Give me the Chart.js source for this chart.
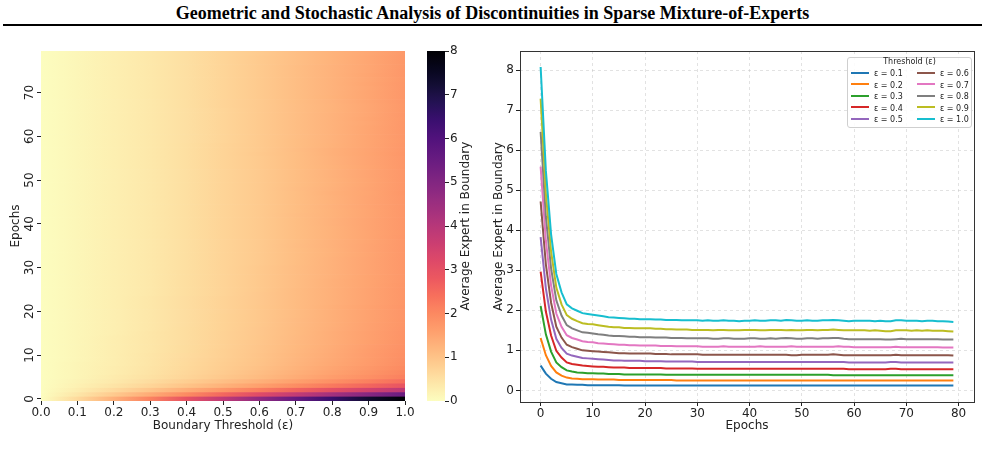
<!DOCTYPE html>
<html><head><meta charset="utf-8">
<script src="https://cdn.jsdelivr.net/npm/chart.js@4.4.1/dist/chart.umd.min.js"></script>
<style>
html,body{margin:0;padding:0;background:#fff;}
body{width:985px;height:454px;position:relative;overflow:hidden;font-family:"DejaVu Sans",sans-serif;}
#title{position:absolute;left:0;top:3px;width:985px;text-align:center;font-family:"Liberation Serif","Times New Roman",serif;font-weight:bold;font-size:18px;color:#000;line-height:20px;}
#rule{position:absolute;left:3px;top:24px;width:979px;height:2px;background:#000;}
canvas{position:absolute;top:0;}
#legend{position:absolute;left:847px;top:57px;width:125px;height:71px;border:1px solid #cfcfcf;border-radius:3px;background:rgba(255,255,255,0.85);font-family:"DejaVu Sans",sans-serif;font-size:8px;color:#222;box-sizing:border-box;}
#legend .lt{position:absolute;left:0;top:0px;width:100%;text-align:center;line-height:10px;}
#legend .it{position:absolute;height:10px;line-height:10px;white-space:nowrap;}
#legend .sw{display:inline-block;width:18px;height:2px;vertical-align:middle;margin-right:5px;position:relative;top:-1px;}
</style></head>
<body>
<div id="title">Geometric and Stochastic Analysis of Discontinuities in Sparse Mixture-of-Experts</div>
<div id="rule"></div>
<canvas id="heat" width="420" height="454" style="left:0"></canvas>
<canvas id="cbar" width="80" height="454" style="left:420px"></canvas>
<canvas id="lines" width="505" height="454" style="left:480px"></canvas>
<div id="legend"></div>
<script>
// ---------------- DATA ----------------
const epochs = Array.from({length: 80}, (_, i) => i);
const thresholds = [0.1, 0.2, 0.3, 0.4, 0.5, 0.6, 0.7, 0.8, 0.9, 1.0];
const zeroThresholdValue = 0;
const xTickLabelsHeat = [0.0, 0.1, 0.2, 0.3, 0.4, 0.5, 0.6, 0.7, 0.8, 0.9, 1.0];
const yTickLabelsHeat = [0, 10, 20, 30, 40, 50, 60, 70];
const colorbarTicks = [0, 1, 2, 3, 4, 5, 6, 7, 8];
const lineXTicks = [0, 10, 20, 30, 40, 50, 60, 70, 80];
const lineYTicks = [0, 1, 2, 3, 4, 5, 6, 7, 8];

const eps01 = [0.62,0.42,0.29,0.21,0.18,0.15,0.15,0.14,0.14,0.13,
  0.13,0.13,0.13,0.13,0.13,0.13,0.12,0.12,0.12,0.12,
  0.12,0.12,0.12,0.12,0.12,0.12,0.12,0.12,0.12,0.12,
  0.12,0.12,0.12,0.12,0.12,0.12,0.12,0.12,0.12,0.12,
  0.12,0.12,0.12,0.12,0.12,0.12,0.12,0.12,0.12,0.12,
  0.12,0.12,0.12,0.12,0.12,0.12,0.12,0.12,0.12,0.12,
  0.12,0.12,0.12,0.12,0.12,0.12,0.12,0.12,0.12,0.12,
  0.12,0.12,0.12,0.12,0.12,0.12,0.12,0.12,0.12,0.12];
const eps02 = [1.31,0.88,0.61,0.45,0.37,0.32,0.30,0.29,0.28,0.28,
  0.28,0.27,0.27,0.27,0.27,0.26,0.26,0.26,0.26,0.26,
  0.26,0.26,0.26,0.26,0.26,0.26,0.25,0.25,0.25,0.25,
  0.25,0.25,0.25,0.25,0.25,0.25,0.25,0.25,0.25,0.25,
  0.25,0.25,0.25,0.25,0.25,0.25,0.25,0.25,0.25,0.25,
  0.25,0.25,0.25,0.25,0.25,0.25,0.25,0.25,0.25,0.25,
  0.25,0.25,0.25,0.25,0.25,0.25,0.25,0.25,0.25,0.25,
  0.25,0.25,0.25,0.25,0.25,0.25,0.25,0.25,0.25,0.25];
const eps03 = [2.11,1.40,0.97,0.70,0.58,0.50,0.47,0.45,0.44,0.43,
  0.43,0.42,0.42,0.41,0.41,0.41,0.40,0.40,0.40,0.40,
  0.40,0.40,0.40,0.40,0.39,0.39,0.39,0.39,0.39,0.39,
  0.39,0.39,0.39,0.39,0.39,0.39,0.39,0.39,0.39,0.39,
  0.39,0.39,0.39,0.39,0.39,0.39,0.39,0.39,0.39,0.39,
  0.39,0.39,0.39,0.39,0.39,0.39,0.38,0.38,0.38,0.38,
  0.38,0.38,0.38,0.38,0.38,0.38,0.38,0.38,0.38,0.38,
  0.38,0.38,0.38,0.38,0.38,0.38,0.38,0.38,0.38,0.38];
const eps04 = [2.97,1.97,1.37,0.99,0.82,0.70,0.66,0.64,0.62,0.61,
  0.60,0.59,0.59,0.58,0.57,0.57,0.57,0.56,0.56,0.56,
  0.56,0.56,0.56,0.56,0.55,0.55,0.55,0.55,0.55,0.55,
  0.54,0.54,0.54,0.54,0.54,0.54,0.54,0.54,0.54,0.54,
  0.54,0.54,0.54,0.54,0.54,0.54,0.54,0.54,0.54,0.54,
  0.54,0.54,0.54,0.54,0.54,0.54,0.54,0.54,0.54,0.53,
  0.53,0.53,0.53,0.53,0.53,0.53,0.53,0.54,0.54,0.53,
  0.53,0.53,0.53,0.53,0.53,0.53,0.53,0.53,0.53,0.53];
const eps05 = [3.83,2.55,1.77,1.29,1.06,0.92,0.87,0.84,0.81,0.80,
  0.79,0.78,0.77,0.76,0.75,0.75,0.74,0.74,0.74,0.74,
  0.73,0.73,0.73,0.73,0.72,0.72,0.72,0.72,0.72,0.72,
  0.71,0.71,0.71,0.71,0.71,0.71,0.71,0.71,0.71,0.71,
  0.71,0.71,0.71,0.71,0.71,0.71,0.71,0.71,0.71,0.71,
  0.71,0.71,0.71,0.71,0.71,0.71,0.71,0.71,0.71,0.70,
  0.70,0.70,0.70,0.70,0.70,0.70,0.70,0.71,0.71,0.70,
  0.70,0.70,0.70,0.70,0.70,0.70,0.70,0.70,0.70,0.70];
const eps06 = [4.72,3.15,2.19,1.59,1.32,1.14,1.08,1.04,1.00,0.99,
  0.98,0.97,0.96,0.95,0.94,0.93,0.93,0.92,0.92,0.92,
  0.92,0.92,0.91,0.91,0.91,0.90,0.90,0.90,0.90,0.90,
  0.90,0.89,0.89,0.89,0.89,0.89,0.89,0.89,0.89,0.89,
  0.89,0.89,0.89,0.89,0.89,0.89,0.89,0.89,0.88,0.88,
  0.89,0.89,0.89,0.89,0.89,0.89,0.90,0.89,0.88,0.88,
  0.88,0.88,0.88,0.88,0.88,0.88,0.88,0.88,0.89,0.88,
  0.88,0.88,0.88,0.88,0.88,0.88,0.88,0.88,0.88,0.87];
const eps07 = [5.59,3.74,2.62,1.92,1.59,1.38,1.31,1.27,1.23,1.21,
  1.20,1.18,1.17,1.16,1.15,1.14,1.14,1.13,1.13,1.12,
  1.12,1.12,1.12,1.11,1.11,1.11,1.10,1.10,1.10,1.10,
  1.10,1.09,1.09,1.09,1.09,1.10,1.09,1.09,1.09,1.09,
  1.09,1.09,1.10,1.09,1.09,1.09,1.09,1.09,1.10,1.09,
  1.09,1.09,1.09,1.09,1.09,1.09,1.09,1.10,1.09,1.09,
  1.08,1.08,1.08,1.08,1.08,1.08,1.08,1.08,1.09,1.08,
  1.08,1.08,1.08,1.08,1.08,1.08,1.08,1.07,1.07,1.07];
const eps08 = [6.46,4.34,3.05,2.25,1.87,1.63,1.55,1.50,1.45,1.44,
  1.42,1.40,1.39,1.37,1.36,1.36,1.35,1.34,1.34,1.33,
  1.33,1.33,1.32,1.32,1.32,1.31,1.31,1.31,1.30,1.30,
  1.30,1.30,1.30,1.29,1.29,1.30,1.30,1.29,1.29,1.29,
  1.30,1.30,1.29,1.29,1.30,1.29,1.30,1.31,1.30,1.29,
  1.29,1.30,1.30,1.29,1.30,1.30,1.31,1.31,1.29,1.28,
  1.28,1.28,1.28,1.28,1.28,1.28,1.27,1.27,1.28,1.29,
  1.28,1.28,1.28,1.28,1.28,1.28,1.28,1.27,1.27,1.27];
const eps09 = [7.29,4.92,3.47,2.57,2.15,1.88,1.79,1.73,1.68,1.66,
  1.65,1.63,1.61,1.59,1.58,1.58,1.56,1.56,1.55,1.55,
  1.55,1.55,1.54,1.54,1.53,1.53,1.52,1.52,1.52,1.51,
  1.51,1.51,1.51,1.50,1.51,1.51,1.50,1.50,1.50,1.51,
  1.51,1.51,1.50,1.50,1.51,1.51,1.51,1.50,1.51,1.50,
  1.50,1.51,1.51,1.50,1.51,1.51,1.52,1.51,1.50,1.50,
  1.50,1.50,1.50,1.49,1.50,1.49,1.48,1.48,1.50,1.50,
  1.50,1.49,1.50,1.49,1.50,1.49,1.49,1.49,1.48,1.47];
const eps10 = [8.08,5.49,3.90,2.91,2.45,2.15,2.05,1.99,1.93,1.91,
  1.89,1.87,1.85,1.83,1.82,1.81,1.80,1.79,1.79,1.78,
  1.78,1.78,1.77,1.77,1.76,1.76,1.76,1.75,1.75,1.75,
  1.75,1.74,1.75,1.74,1.74,1.75,1.74,1.74,1.73,1.74,
  1.74,1.75,1.74,1.74,1.75,1.75,1.74,1.76,1.75,1.74,
  1.74,1.75,1.74,1.74,1.75,1.75,1.76,1.75,1.74,1.73,
  1.74,1.74,1.74,1.74,1.73,1.74,1.73,1.73,1.75,1.75,
  1.74,1.74,1.74,1.73,1.74,1.74,1.73,1.73,1.72,1.71];
const seriesValues = [eps01, eps02, eps03, eps04, eps05, eps06, eps07, eps08, eps09, eps10];

// ---------------- STYLE ----------------
const lineColors = ['#1f77b4','#ff7f0e','#2ca02c','#d62728','#9467bd','#8c564b','#e377c2','#7f7f7f','#bcbd22','#17becf'];
const MAGMA = ['#000004','#07061c','#140e36','#251255','#3b0f70','#51127c','#641a80','#782281','#8c2981','#a1307e','#b73779','#cb3e71','#de4968','#ec5860','#f7705c','#fc8961','#fe9f6d','#feb77e','#fecf92','#fde7a9','#fcfdbf'];
const VMIN = 0, VMAX = 8;
function hex2rgb(h){return [parseInt(h.slice(1,3),16),parseInt(h.slice(3,5),16),parseInt(h.slice(5,7),16)];}
const MAGMA_RGB = MAGMA.map(hex2rgb);
function cmap(v){ // magma_r
  let t = (v - VMIN) / (VMAX - VMIN); t = Math.max(0, Math.min(1, t));
  const p = (1 - t) * (MAGMA_RGB.length - 1);
  const i = Math.min(Math.floor(p), MAGMA_RGB.length - 2); const f = p - i;
  const a = MAGMA_RGB[i], b = MAGMA_RGB[i+1];
  return 'rgb(' + [0,1,2].map(k => Math.round(a[k] + (b[k]-a[k])*f)).join(',') + ')';
}
const FONT = '"DejaVu Sans", sans-serif';
const TXT = '#222';
Chart.defaults.font.family = FONT;
Chart.defaults.color = TXT;

// heatmap table built from the series
const heatCols = [0, ...thresholds];
const heatTable = epochs.map((e, r) => [zeroThresholdValue, ...seriesValues.map(s => s[r])]);

// ---------------- HEATMAP ----------------
const heatPlugin = {
  id: 'heatCells',
  beforeDatasetsDraw(chart) {
    const {ctx, scales: {x, y}} = chart;
    const x0 = x.getPixelForValue(0), x1 = x.getPixelForValue(1);
    ctx.save();
    for (let r = epochs.length - 1; r >= 0; r--) {
      const e = epochs[r];
      const yt = y.getPixelForValue(e + 0.5), yb = y.getPixelForValue(e - 0.5);
      const g = ctx.createLinearGradient(x0, 0, x1, 0);
      heatCols.forEach((c, j) => g.addColorStop(c, cmap(heatTable[r][j])));
      ctx.fillStyle = g;
      ctx.fillRect(x0, yt, x1 - x0, (yb - yt) + (r > 0 ? 0.7 : 0));
    }
    ctx.restore();
  },
  afterDraw(chart) {
    const {ctx, scales: {y}, chartArea} = chart;
    ctx.save();
    ctx.font = '12px ' + FONT; ctx.fillStyle = TXT;
    ctx.textAlign = 'center'; ctx.textBaseline = 'middle';
    yTickLabelsHeat.forEach(v => {
      const py = y.getPixelForValue(v);
      ctx.save(); ctx.translate(chartArea.left - 11, py); ctx.rotate(-Math.PI/2);
      ctx.fillText(String(v), 0, 0); ctx.restore();
    });
    ctx.restore();
  }
};
new Chart(document.getElementById('heat'), {
  type: 'scatter',
  data: {datasets: []},
  plugins: [heatPlugin],
  options: {
    responsive: false, animation: false, devicePixelRatio: 1,
    layout: {padding: {left: 0, right: 15, top: 51, bottom: 0}},
    plugins: {legend: {display: false}, tooltip: {enabled: false}},
    scales: {
      x: {type: 'linear', min: 0, max: 1,
        afterBuildTicks: s => { s.ticks = xTickLabelsHeat.map(v => ({value: v})); },
        afterFit: s => { s.height = 53; },
        border: {display: false},
        grid: {drawOnChartArea: false, drawTicks: true, tickLength: 4, tickColor: TXT, tickWidth: 1},
        ticks: {font: {size: 12}, padding: 1, maxRotation: 0, minRotation: 0, callback: v => Number(v).toFixed(1)},
        title: {display: true, text: 'Boundary Threshold (ε)', font: {size: 12}, padding: {top: 0, bottom: 20.8}, color: TXT}
      },
      y: {type: 'linear', min: -0.5, max: 79.5,
        afterBuildTicks: s => { s.ticks = yTickLabelsHeat.map(v => ({value: v})); },
        afterFit: s => { s.width = 41; },
        border: {display: false},
        grid: {drawOnChartArea: false, drawTicks: true, tickLength: 4, tickColor: TXT, tickWidth: 1},
        ticks: {display: false},
        title: {display: true, text: 'Epochs', font: {size: 12}, padding: {top: 8.8, bottom: 0}, color: TXT}
      }
    }
  }
});

// ---------------- COLORBAR ----------------
const cbarPlugin = {
  id: 'cbarFill',
  beforeDatasetsDraw(chart) {
    const {ctx, scales: {y}, chartArea} = chart;
    const yb = y.getPixelForValue(VMIN), yt = y.getPixelForValue(VMAX);
    const g = ctx.createLinearGradient(0, yb, 0, yt);
    for (let k = 0; k <= 40; k++) { const v = VMIN + (VMAX - VMIN) * k / 40; g.addColorStop(k / 40, cmap(v)); }
    ctx.save(); ctx.fillStyle = g;
    ctx.fillRect(chartArea.left, yt, chartArea.right - chartArea.left, yb - yt);
    ctx.restore();
  },
  afterDraw(chart) {
    const {ctx} = chart;
    ctx.save();
    ctx.font = '12px ' + FONT; ctx.fillStyle = TXT;
    ctx.textAlign = 'center'; ctx.textBaseline = 'middle';
    ctx.translate(45.5, 226); ctx.rotate(-Math.PI/2);
    ctx.fillText('Average Expert in Boundary', 0, 0);
    ctx.restore();
  }
};
new Chart(document.getElementById('cbar'), {
  type: 'scatter',
  data: {datasets: []},
  plugins: [cbarPlugin],
  options: {
    responsive: false, animation: false, devicePixelRatio: 1,
    layout: {padding: {left: 7, right: 0, top: 51, bottom: 53}},
    plugins: {legend: {display: false}, tooltip: {enabled: false}},
    scales: {
      x: {display: false, min: 0, max: 1},
      y: {type: 'linear', position: 'right', min: VMIN, max: VMAX,
        afterBuildTicks: s => { s.ticks = colorbarTicks.map(v => ({value: v})); },
        afterFit: s => { s.width = 55; },
        border: {display: false},
        grid: {drawOnChartArea: false, drawTicks: true, tickLength: 4, tickColor: TXT, tickWidth: 1},
        ticks: {font: {size: 12}, padding: 1}
      }
    }
  }
});

// ---------------- LINE CHART ----------------
const boxPlugin = {
  id: 'axesBox',
  afterDatasetsDraw(chart) {
    const {ctx, chartArea: a} = chart;
    ctx.save(); ctx.strokeStyle = '#333'; ctx.lineWidth = 1;
    ctx.strokeRect(Math.round(a.left) + 0.5, Math.round(a.top) + 0.5, Math.round(a.right - a.left), Math.round(a.bottom - a.top));
    ctx.restore();
  }
};
const datasets = thresholds.map((t, i) => ({
  label: 'ε = ' + t.toFixed(1),
  data: epochs.map((e, j) => ({x: e, y: seriesValues[i][j]})),
  borderColor: lineColors[i], backgroundColor: lineColors[i],
  borderWidth: 2, pointRadius: 0, tension: 0, fill: false,
  order: thresholds.length - 1 - i
}));
const gridStyle = {color: 'rgba(190,190,190,0.55)', lineWidth: 0.8, drawOnChartArea: true, drawTicks: true,
  tickLength: 4, tickColor: TXT, tickWidth: 1, tickBorderDash: []};
new Chart(document.getElementById('lines'), {
  type: 'line',
  data: {datasets},
  plugins: [boxPlugin],
  options: {
    responsive: false, animation: false, devicePixelRatio: 1,
    layout: {padding: {left: 0, right: 11, top: 51, bottom: 0}},
    plugins: {legend: {display: false}, tooltip: {enabled: false}},
    scales: {
      x: {type: 'linear', min: -3.95, max: 82.95,
        afterBuildTicks: s => { s.ticks = lineXTicks.map(v => ({value: v})); },
        afterFit: s => { s.height = 52; },
        border: {display: false, dash: [3, 3]},
        grid: gridStyle,
        ticks: {font: {size: 12}, padding: 1, maxRotation: 0},
        title: {display: true, text: 'Epochs', font: {size: 12}, padding: {top: 0, bottom: 20.8}, color: TXT}
      },
      y: {type: 'linear', min: -0.29, max: 8.48,
        afterBuildTicks: s => { s.ticks = lineYTicks.map(v => ({value: v})); },
        afterFit: s => { s.width = 40; },
        border: {display: false, dash: [3, 3]},
        grid: gridStyle,
        ticks: {font: {size: 12}, padding: 2},
        title: {display: true, text: 'Average Expert in Boundary', font: {size: 12}, padding: {top: 11.8, bottom: 0}, color: TXT}
      }
    }
  }
});

// ---------------- LEGEND (HTML) ----------------
(function(){
  const lg = document.getElementById('legend');
  const t = document.createElement('div'); t.className = 'lt'; t.textContent = 'Threshold (ε)'; t.style.top = '-1px';
  lg.appendChild(t);
  datasets.forEach((d, i) => {
    const col = Math.floor(i / 5), row = i % 5;
    const it = document.createElement('div'); it.className = 'it';
    it.style.left = (col === 0 ? 3 : 69) + 'px';
    it.style.top = (11 + row * 11.5) + 'px';
    const sw = document.createElement('span'); sw.className = 'sw'; sw.style.background = d.borderColor;
    it.appendChild(sw); it.appendChild(document.createTextNode(d.label));
    lg.appendChild(it);
  });
})();
</script>
</body></html>
